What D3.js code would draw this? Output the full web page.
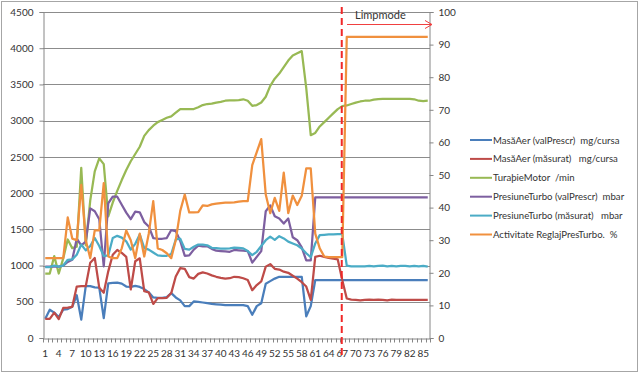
<!DOCTYPE html>
<html>
<head>
<meta charset="utf-8">
<script src="https://cdn.jsdelivr.net/npm/d3@7"></script>
<style>
  body { margin: 0; background: #fff; }
  svg text { font-family: Lato, "Liberation Sans", sans-serif; fill: #333; }
</style>
</head>
<body>
<svg id="chart" width="640" height="374"></svg>
<script>
// categories 1..86
const categories = d3.range(1, 87);

// left axis series
const masaAerPrescr = [265, 390, 350, 290, 390, 400, 430, 590, 255, 715,
  715, 700, 695, 275, 755, 760, 765, 750, 710, 705,
  720, 705, 675, 630, 560, 555, 555, 565, 620, 560,
  520, 440, 440, 505, 500, 490, 480, 470, 465, 460,
  455, 455, 455, 455, 455, 440, 320, 440, 480, 750,
  785, 820, 845, 845, 845, 845, 845, 845, 300, 440,
  800, 800, 800, 800, 800, 800, 800, 800, 800, 800,
  800, 800, 800, 800, 800, 800, 800, 800, 800, 800,
  800, 800, 800, 800, 800, 800];

const masaAerMasurat = [265, 265, 350, 260, 415, 420, 430, 710, 715, 715,
  1040, 1105, 695, 625, 920, 1150, 1215, 1175, 1120, 670,
  1060, 1100, 645, 630, 470, 550, 550, 555, 620, 850,
  965, 955, 840, 820, 885, 905, 890, 865, 845, 830,
  820, 825, 845, 840, 825, 800, 660, 730, 780, 985,
  1020, 955, 945, 915, 900, 860, 820, 770, 710, 525,
  1120, 1135, 1120, 1105, 1095, 1085, 800, 545, 530, 525,
  520, 525, 530, 525, 530, 525, 520, 530, 525, 525,
  525, 525, 525, 525, 525, 525];

const turatieMotor = [890, 890, 1130, 890, 1100, 1360, 1240, 1260, 2350, 1280,
  1900, 2300, 2480, 2400, 1680, 1870, 2030, 2180, 2320, 2440,
  2540, 2640, 2790, 2870, 2930, 2980, 3010, 3040, 3060, 3110,
  3160, 3160, 3160, 3160, 3185, 3215, 3230, 3235, 3250, 3260,
  3275, 3280, 3280, 3285, 3295, 3275, 3205, 3215, 3250, 3330,
  3480, 3580, 3650, 3740, 3830, 3900, 3930, 3960, 3450, 2800,
  2830, 2920, 2980, 3040, 3100, 3160, 3200, 3210, 3230, 3250,
  3265, 3275, 3275, 3290, 3298, 3300, 3300, 3300, 3300, 3300,
  3300, 3300, 3295, 3275, 3270, 3275];

const presiunePrescr = [985, 985, 990, 985, 1000, 1050, 1080, 1370, 1280, 1330,
  1790, 1750, 1640, 990, 1860, 1950, 1950, 1840, 1730, 1640,
  1745, 1735, 1600, 1540, 1380, 1370, 1370, 1380, 1490, 1475,
  1340, 1135, 1140, 1220, 1275, 1265, 1265, 1230, 1205, 1200,
  1195, 1190, 1215, 1210, 1205, 1200, 1040, 1120, 1200, 1750,
  1830, 1680, 1650, 1580, 1650, 1390, 1350, 1250, 1070, 1070,
  1940, 1940, 1940, 1940, 1940, 1940, 1940, 1940, 1940, 1940,
  1940, 1940, 1940, 1940, 1940, 1940, 1940, 1940, 1940, 1940,
  1940, 1940, 1940, 1940, 1940, 1940];

const presiuneMasurat = [980, 980, 1000, 985, 1000, 1080, 1085, 1150, 1290, 1210,
  1270, 1380, 1270, 1130, 1140, 1380, 1410, 1385, 1335, 1220,
  1300, 1430, 1240, 1220, 1180, 1140, 1135, 1135, 1160, 1360,
  1370, 1230, 1220, 1260, 1290, 1290, 1280, 1245, 1240, 1235,
  1235, 1237, 1247, 1245, 1237, 1200, 1145, 1190, 1270, 1350,
  1400, 1355, 1405, 1375, 1330, 1305, 1280, 1235, 1170, 1115,
  1305, 1420, 1425, 1430, 1432, 1435, 1435, 1000, 990, 990,
  990, 990, 995, 990, 995, 1000, 990, 995, 990, 995,
  995, 990, 995, 990, 995, 985];

// right axis series (%)
const activitateReglaj = [24.5, 24.5, 24.5, 24.5, 24.5, 37, 30.5, 30, 47, 30,
  24.5, 33, 33, 47.5, 25, 24.5, 24.5, 27.5, 33, 30,
  24.5, 32, 25, 32, 42, 27.5, 27, 26, 24.5, 30,
  39, 44, 38.5, 38.5, 38.6, 40.7, 40.5, 41, 41.2, 41.4,
  41.5, 41.5, 41.6, 41.8, 42, 42, 53, 57, 61, 44,
  38.3, 43, 39, 50.7, 38.3, 43.7, 40.8, 43.6, 52, 52,
  32, 27.5, 25, 24.8, 24.8, 24.8, 24.8, 92.4, 92.4, 92.4,
  92.4, 92.4, 92.4, 92.4, 92.4, 92.4, 92.4, 92.4, 92.4, 92.4,
  92.4, 92.4, 92.4, 92.4, 92.4, 92.4];

const seriesNames = ["MasăAer (valPrescr)  mg/cursa", "MasăAer (măsurat)   mg/cursa",
  "TuraþieMotor  /min", "PresiuneTurbo (valPrescr)  mbar",
  "PresiuneTurbo (măsurat)   mbar", "Activitate ReglajPresTurbo.  %"];
const seriesColors = ["#4a7ebb", "#be4b48", "#98b954", "#7d5fa0", "#4bacc6", "#f0903e"];
const leftTicks = d3.range(0, 4501, 500);
const rightTicks = d3.range(0, 101, 10);
const limpStart = 67;

const svg = d3.select('#chart');

const x = d3.scaleBand().domain(categories).range([43, 430]);
const cx = d => x(d) + x.bandwidth() / 2;
const yL = d3.scaleLinear().domain([0, 4500]).range([338, 12]);
const yR = d3.scaleLinear().domain([0, 100]).range([338, 12]);

// outer border
svg.append('rect')
  .attr('x', 1.5).attr('y', 1.5).attr('width', 636).attr('height', 370)
  .attr('fill', '#fff').attr('stroke', '#a6a6a6');

// gridlines
svg.append('g').selectAll('line')
  .data(leftTicks.filter(t => t > 0))
  .join('line')
  .attr('x1', 43).attr('x2', 430)
  .attr('y1', d => Math.round(yL(d)) + 0.5).attr('y2', d => Math.round(yL(d)) + 0.5)
  .attr('stroke', '#8c8c8c');

// left axis
const gL = svg.append('g').attr('transform', 'translate(43.5,0)')
  .call(d3.axisLeft(yL).tickValues(leftTicks).tickSize(4).tickPadding(6).tickFormat(d3.format('d')));
// right axis
const gR = svg.append('g').attr('transform', 'translate(429.5,0)')
  .call(d3.axisRight(yR).tickValues(rightTicks).tickSize(4).tickPadding(5).tickFormat(d3.format('d')));
// bottom axis, labels every third category
const gB = svg.append('g').attr('transform', 'translate(0,338.5)')
  .call(d3.axisBottom(x).tickValues(categories.filter(c => (c - 1) % 3 === 0)).tickSize(0).tickPadding(11));

[gL, gR, gB].forEach(g => {
  g.select('.domain').attr('stroke', '#868686');
  g.selectAll('.tick line').attr('stroke', '#868686');
  g.selectAll('.tick text').attr('font-size', 10).attr('fill', '#333');
});

// minor ticks at category boundaries
svg.append('g').selectAll('line')
  .data(categories.concat([87]))
  .join('line')
  .attr('x1', d => Math.round(d === 87 ? x.range()[1] : x(d)) + 0.5)
  .attr('x2', d => Math.round(d === 87 ? x.range()[1] : x(d)) + 0.5)
  .attr('y1', 338.5).attr('y2', 342.5)
  .attr('stroke', '#868686');

// series lines
const leftSeries = [masaAerPrescr, masaAerMasurat, turatieMotor, presiunePrescr, presiuneMasurat];
const lineL = d3.line().x((d, i) => cx(categories[i])).y(d => yL(d));
const lineR = d3.line().x((d, i) => cx(categories[i])).y(d => yR(d));

svg.append('g').selectAll('path')
  .data(leftSeries)
  .join('path')
  .attr('d', d => lineL(d))
  .attr('fill', 'none')
  .attr('stroke', (d, i) => seriesColors[i])
  .attr('stroke-width', 2.25)
  .attr('stroke-linejoin', 'round');

svg.append('path')
  .attr('d', lineR(activitateReglaj))
  .attr('fill', 'none')
  .attr('stroke', seriesColors[5])
  .attr('stroke-width', 2.25)
  .attr('stroke-linejoin', 'round');

// limp mode marker
const lx = cx(limpStart) - 0.5;
svg.append('line')
  .attr('x1', lx).attr('x2', lx).attr('y1', 7).attr('y2', 358)
  .attr('stroke', '#f02828').attr('stroke-width', 2)
  .attr('stroke-dasharray', '7,4');

svg.append('line')
  .attr('x1', 347).attr('x2', 432).attr('y1', 24.5).attr('y2', 24.5)
  .attr('stroke', '#f04040').attr('stroke-width', 1);
svg.append('path')
  .attr('d', 'M425,20.5 L432,24.5 L425,28.5')
  .attr('fill', 'none').attr('stroke', '#f04040').attr('stroke-width', 1);
svg.append('text')
  .attr('x', 355).attr('y', 18.5)
  .attr('font-size', 11)
  .text('Limpmode');

// legend
const legend = svg.append('g').selectAll('g')
  .data(seriesNames)
  .join('g')
  .attr('transform', (d, i) => `translate(470,${140 + i * 18.9})`);
legend.append('line')
  .attr('x1', 0).attr('x2', 22).attr('y1', 0).attr('y2', 0)
  .attr('stroke', (d, i) => seriesColors[i]).attr('stroke-width', 2);
legend.append('text')
  .attr('x', 23).attr('y', 3.5)
  .attr('font-size', 9.6)
  .style('white-space', 'pre')
  .text(d => d);
</script>
</body>
</html>
